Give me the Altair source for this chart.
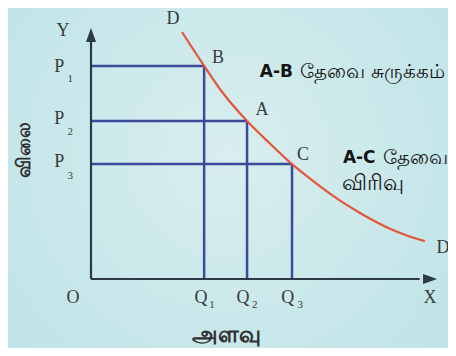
import altair as alt
import pandas as pd

# ---- data (in abstract diagram units) ----
Q = [32.7, 45.1, 58.1]          # quantities Q1, Q2, Q3
P = [84.9, 62.9, 45.8]          # prices P1, P2, P3
curve_x = [26.3, 32.7, 37.3, 45.1, 51.7, 58.1, 62.4, 67.1, 72.0, 76.9, 81.5, 86.4, 91.3, 96.5]
curve_y = [98.4, 84.9, 75.6, 62.9, 54.0, 45.8, 41.0, 36.0, 31.2, 27.0, 23.4, 20.0, 17.3, 15.1]

serif_text = ["Y", "O", "X", "D", "B", "A", "C", "D", "P", "P", "P", "Q", "Q", "Q"]
serif_x = [-8.1, -5.2, 98.0, 23.7, 36.7, 49.4, 61.3, 101.7, -9.2, -9.2, -9.2, 31.8, 43.9, 56.9]
serif_y = [98.8, -7.6, -7.6, 103.4, 88.0, 67.3, 49.4, 12.4, 84.6, 63.8, 46.6, -7.4, -7.4, -7.4]

sub_text = ["1", "2", "3", "1", "2", "3"]
sub_x = [-6.0, -6.0, -6.0, 35.0, 47.3, 60.5]
sub_y = [79.6, 58.4, 41.0, -10.2, -10.2, -10.2]

bold_text = ["A-B", "A-C"]
bold_x = [48.8, 72.8]
bold_y = [82.5, 48.2]

tamil_text = ["தேவை சுருக்கம்", "தேவை", "விரிவு"]
tamil_x = [60.5, 84.3, 72.6]
tamil_y = [82.5, 48.2, 38.4]
tamil_size = [20, 20, 22]

xlabel_text = ["அளவு"]
xlabel_x = [39.3]
xlabel_y = [-22.3]

ylabel_text = ["விலை"]
ylabel_x = [-19.4]
ylabel_y = [51.4]

axis_end = [97.0, 95.0]   # y-axis top, x-axis right end (before arrowheads)
arrow_pos = [97.2, 98.0]  # arrowhead centres

xs = alt.Scale(domain=[-23.99, 103.18], nice=False, zero=False)
ys = alt.Scale(domain=[-27.49, 107.97], nice=False, zero=False)

def X(f):
    return alt.X(f, type="quantitative", scale=xs, axis=None)

def Y(f):
    return alt.Y(f, type="quantitative", scale=ys, axis=None)

bg = alt.Chart(pd.DataFrame({"a": [0]})).mark_rect(
    fill=alt.Gradient(
        gradient="radial",
        stops=[alt.GradientStop(color="#d9eeee", offset=0),
               alt.GradientStop(color="#bde3e8", offset=1)],
        x1=0.5, y1=0.45, r1=0, x2=0.5, y2=0.45, r2=0.7,
    )
).encode(x=alt.value(0), x2=alt.value(440), y=alt.value(0), y2=alt.value(340))

hdf = pd.DataFrame({"x0": [0] * 3, "x1": Q, "y": P})
vdf = pd.DataFrame({"x": Q, "y0": [0] * 3, "y1": P})
blue = "#3b4a9c"
hlines = alt.Chart(hdf).mark_rule(color=blue, strokeWidth=2.5).encode(
    x=X("x0"), x2="x1", y=Y("y"))
vlines = alt.Chart(vdf).mark_rule(color=blue, strokeWidth=2.5).encode(
    x=X("x"), y=Y("y0"), y2="y1")

axcol = "#2b3a44"
yaxis = alt.Chart(pd.DataFrame({"x": [0], "y0": [0], "y1": [axis_end[0]]})).mark_rule(
    color=axcol, strokeWidth=2.2).encode(x=X("x"), y=Y("y0"), y2="y1")
xaxis = alt.Chart(pd.DataFrame({"x0": [0], "x1": [axis_end[1]], "y": [0]})).mark_rule(
    color=axcol, strokeWidth=2.2).encode(x=X("x0"), x2="x1", y=Y("y"))
yarrow = alt.Chart(pd.DataFrame({"x": [0], "y": [arrow_pos[0]]})).mark_point(
    shape="M0,-1L0.72,1L-0.72,1Z", size=196, filled=True, color=axcol, opacity=1
).encode(x=X("x"), y=Y("y"))
xarrow = alt.Chart(pd.DataFrame({"x": [arrow_pos[1]], "y": [0]})).mark_point(
    shape="M1,0L-1,0.72L-1,-0.72Z", size=196, filled=True, color=axcol, opacity=1
).encode(x=X("x"), y=Y("y"))

cdf = pd.DataFrame({"x": curve_x, "y": curve_y, "o": list(range(len(curve_x)))})
curve = alt.Chart(cdf).mark_line(color="#e4563b", strokeWidth=2.2, interpolate="monotone").encode(
    x=X("x"), y=Y("y"), order="o")

sdf = pd.DataFrame({"t": serif_text, "x": serif_x, "y": serif_y})
serif = alt.Chart(sdf).mark_text(font="Liberation Serif", fontSize=18, color="#3a3a3a",
                                 align="center", baseline="middle").encode(
    x=X("x"), y=Y("y"), text="t")
subdf = pd.DataFrame({"t": sub_text, "x": sub_x, "y": sub_y})
subs = alt.Chart(subdf).mark_text(font="Liberation Serif", fontSize=11, color="#3a3a3a",
                                  align="center", baseline="middle").encode(
    x=X("x"), y=Y("y"), text="t")

bdf = pd.DataFrame({"t": bold_text, "x": bold_x, "y": bold_y})
bold = alt.Chart(bdf).mark_text(font="DejaVu Sans", fontSize=17, fontWeight="bold", color="#151515",
                                align="left", baseline="middle").encode(
    x=X("x"), y=Y("y"), text="t")
tdf = pd.DataFrame({"t": tamil_text, "x": tamil_x, "y": tamil_y, "s": tamil_size})
tamil = alt.Chart(tdf).mark_text(color="#151515", align="left",
                                 baseline="middle").encode(
    x=X("x"), y=Y("y"), text="t", size=alt.Size("s", type="quantitative", scale=None))
xldf = pd.DataFrame({"t": xlabel_text, "x": xlabel_x, "y": xlabel_y})
xlabel = alt.Chart(xldf).mark_text(fontSize=23, fontWeight="bold", color="#303030",
                                   align="center", baseline="middle").encode(
    x=X("x"), y=Y("y"), text="t")
ldf = pd.DataFrame({"t": ylabel_text, "x": ylabel_x, "y": ylabel_y})
ylabel = alt.Chart(ldf).mark_text(fontSize=19, fontWeight="bold", color="#303030", angle=270,
                                  align="center", baseline="middle").encode(
    x=X("x"), y=Y("y"), text="t")

chart = alt.layer(bg, hlines, vlines, yaxis, xaxis, yarrow, xarrow, curve,
                  serif, subs, bold, tamil, xlabel, ylabel).properties(
    width=440, height=340, padding=0, autosize=alt.AutoSizeParams(type="none"),
    background="#bde3e8",
).configure_view(stroke=None)

chart.save("out.html", embed_options={"renderer": "svg", "actions": False})
